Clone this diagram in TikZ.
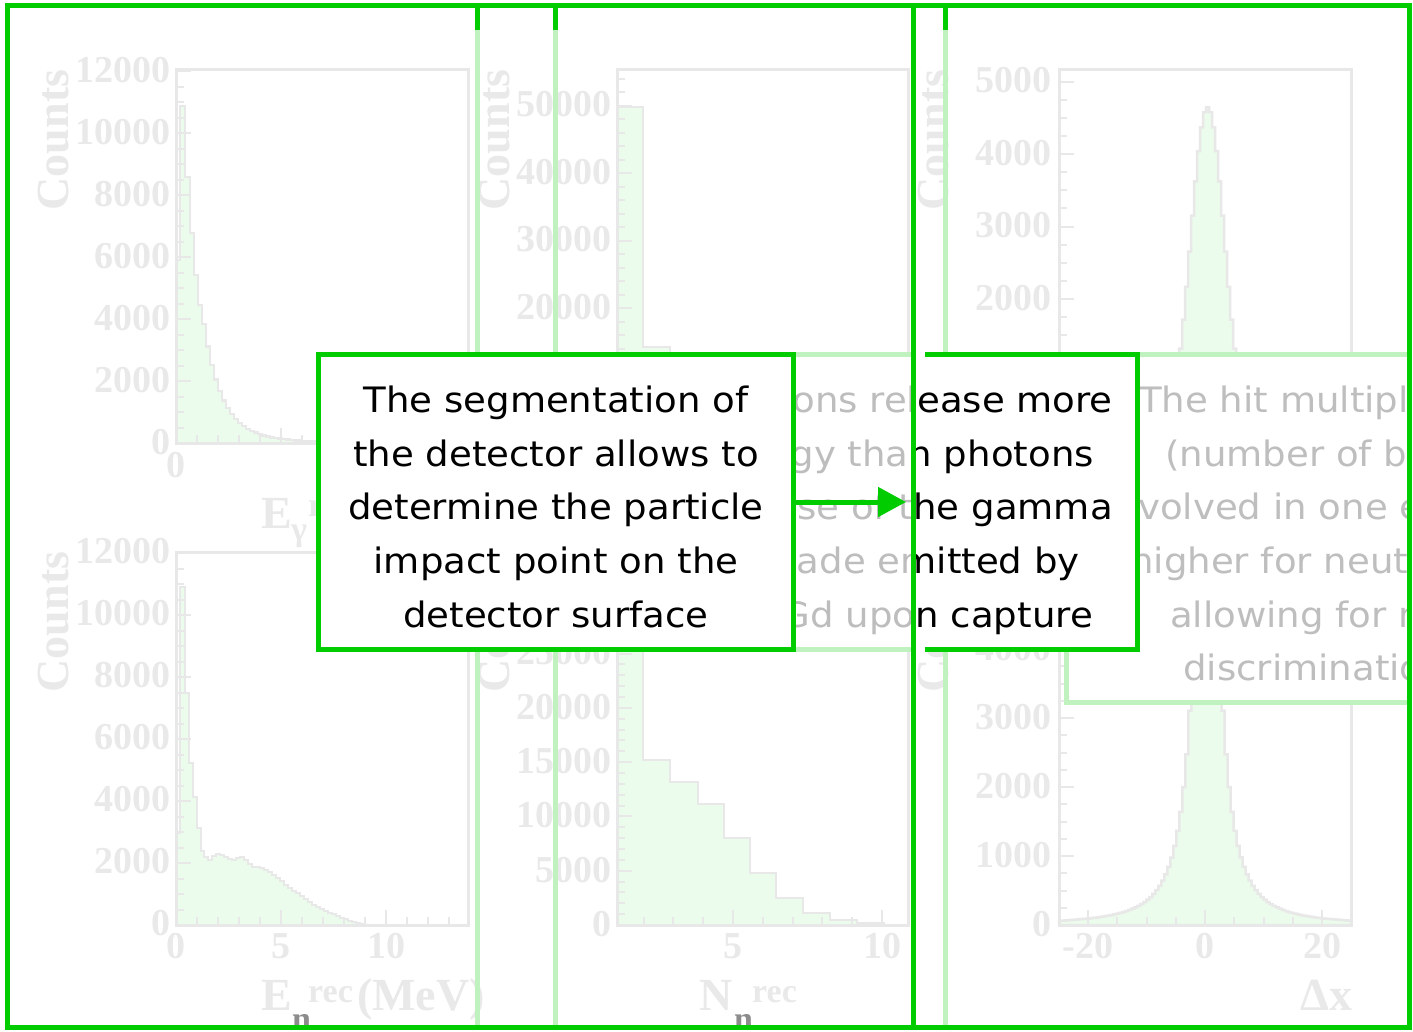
\documentclass[tikz,border=0pt]{standalone}
\usepackage{fontspec}
\setmainfont{Liberation Serif}
\newfontfamily\bxfont[FakeStretch=1.06]{DejaVu Sans}
\usetikzlibrary{arrows.meta}
\definecolor{brightgreen}{RGB}{0,204,0}
\definecolor{fadegreen}{RGB}{192,242,192}
\definecolor{plotline}{RGB}{232,232,232}
\definecolor{plottext}{RGB}{233,233,233}
\definecolor{histfill}{RGB}{236,252,236}
\definecolor{fadetext}{RGB}{190,190,190}
\definecolor{subgrey}{RGB}{140,140,140}
\newcommand\bxtxt{\bxfont\fontsize{35}{42}\selectfont}
\newcommand\ticktxt{\bfseries\fontsize{38}{40}\selectfont}
\newcommand\axtxt{\bfseries\fontsize{46}{48}\selectfont}
\newcommand\suptxt{\bfseries\fontsize{34}{36}\selectfont}
\begin{document}
\begin{tikzpicture}[x=1pt,y=-1pt,line join=miter,
  plotframe/.style={draw=plotline,line width=3pt},
  histo/.style={draw=plotline,fill=histfill,line width=2.5pt},
  tickmark/.style={draw=plotline,line width=2pt},
  ylab/.style={text=plottext,font=\ticktxt,anchor=east,inner sep=0pt},
  xlab/.style={text=plottext,font=\ticktxt,anchor=north,inner sep=0pt},
  countlab/.style={text=plottext,font=\axtxt,rotate=90,inner sep=0pt},
  axlab/.style={text=plottext,font=\axtxt,anchor=base west,inner sep=0pt},
  supl/.style={text=plottext,font=\suptxt,anchor=base west,inner sep=0pt},
  subdark/.style={text=subgrey,font=\suptxt,anchor=base west,inner sep=0pt},
  fadeln/.style={draw=fadegreen,line width=5pt},
  brightln/.style={draw=brightgreen,line width=5pt},
  txtline/.style={font=\bxtxt,inner sep=0pt},
]
\useasboundingbox (0,0) rectangle (1413,1031);
\fill[white] (0,0) rectangle (1413,1031);

% ---------------- plot 1 (top left) ----------------
\filldraw[histo] (176,443) -- (176,260) -- (180,260) -- (180,106) -- (185,106) -- (185,177) -- (190,177) -- (190,233) -- (194,233) -- (194,275) -- (198,275) -- (198,305) -- (202,305)
  -- plot[const plot,domain=202:466,samples=67] (\x,{443-0.031*(10000*exp(-(\x-183)/17)+870*exp(-(\x-183)/45))}) -- (466,443) -- cycle;
\draw[plotframe] (176,69) rectangle (468,443);
\foreach \k in {0,...,24} \draw[tickmark] (176,{443-\k*15.5}) -- ++(8,0);
\foreach \k in {0,...,6} \draw[tickmark] (176,{443-\k*62}) -- ++(15,0);
\foreach \k in {1,...,13} \draw[tickmark] ({176+\k*21},443) -- ++(0,-8);
\foreach \k in {1,2} \draw[tickmark] ({176+\k*105},443) -- ++(0,-15);
\foreach \v [count=\k from 0] in {0,2000,4000,6000,8000,10000,12000}
  \node[ylab] (p1y\k) at (171,{442-\k*62}) {\v};
\node[xlab] (p1x0) at (176,452) {0};
\node[countlab] (p1c) at (54,140) {Counts};
\node[axlab] (p1e) at (261,528) {E};
\node[supl] (p1g) at (291,540) {γ};
\node[supl] (p1r) at (308,516) {rec};

% ---------------- plot 2 (bottom left) ----------------
\filldraw[histo] (176,925) -- plot[const plot] coordinates {(176,833) (180,587) (185,693) (189,763) (193,797) (197,828) (201,851) (204,857) (208,860) (212,856) (216,854) (220,855) (224,857) (228,859) (232,860) (236,858) (240,857) (244,860) (248,864) (252,867) (256,867) (260,868) (264,870) (268,872) (272,875) (276,878) (280,881) (284,885) (288,888) (292,891) (296,893) (300,896) (304,899) (308,902) (312,905) (316,907) (320,909) (324,911) (328,913) (332,914) (336,916) (340,918) (344,919) (348,921) (352,922) (356,923) (360,924) (364,925) (468,925)} -- cycle;
\draw[plotframe] (176,552) rectangle (468,925);
\foreach \k in {0,...,24} \draw[tickmark] (176,{925-\k*15.5}) -- ++(8,0);
\foreach \k in {0,...,6} \draw[tickmark] (176,{925-\k*62}) -- ++(15,0);
\foreach \k in {1,...,13} \draw[tickmark] ({176+\k*21},925) -- ++(0,-8);
\foreach \k in {1,2} \draw[tickmark] ({176+\k*105},925) -- ++(0,-15);
\foreach \v [count=\k from 0] in {0,2000,4000,6000,8000,10000,12000}
  \node[ylab] (p2y\k) at (171,{923-\k*62}) {\v};
\foreach \v [count=\k from 0] in {0,5,10}
  \node[xlab] (p2x\k) at ({176+\k*105},933) {\v};
\node[countlab] (p2c) at (54,622) {Counts};
\node[axlab] (p2e) at (261,1010) {E};
\node[subdark] (p2n) at (292,1030) {n};
\node[supl] (p2r) at (308,1002) {rec};
\node[axlab] (p2u) at (357,1010) {(MeV)};

% ---------------- plot 3 (top middle) ----------------
\filldraw[histo] (617,443) -- plot[const plot] coordinates {(617,107) (643,347) (670,361) (697,375) (724,395) (750,415) (776,428) (803,436) (830,440) (857,442) (884,443)} -- cycle;
\draw[plotframe] (617,69) rectangle (908,443);
\foreach \k in {0,...,27} \draw[tickmark] (617,{443-\k*13.5}) -- ++(8,0);
\foreach \k in {0,...,5} \draw[tickmark] (617,{443-\k*67.5}) -- ++(15,0);
\foreach \v [count=\k from 2] in {20000,30000,40000,50000}
  \node[ylab] (p3y\k) at (612,{442-\k*67.5}) {\v};
\node[countlab] (p3c) at (495,140) {Counts};

% ---------------- plot 4 (bottom middle) ----------------
\filldraw[histo] (617,925) -- plot[const plot] coordinates {(617,615) (643,760) (670,782) (698,804) (724,838) (750,873) (776,898) (803,913) (830,920) (857,923) (884,925)} -- cycle;
\draw[plotframe] (617,552) rectangle (908,925);
\foreach \k in {0,...,34} \draw[tickmark] (617,{925-\k*10.86}) -- ++(8,0);
\foreach \k in {0,...,6} \draw[tickmark] (617,{925-\k*54.3}) -- ++(15,0);
\foreach \k in {-3,...,5} \draw[tickmark] ({733+\k*29.8},925) -- ++(0,-8);
\foreach \k in {0,5} \draw[tickmark] ({733+\k*29.8},925) -- ++(0,-15);
\foreach \v [count=\k from 0] in {0,5000,10000,15000,20000,25000}
  \node[ylab] (p4y\k) at (612,{924-\k*54.3}) {\v};
\node[xlab] (p4x5) at (733,933) {5};
\node[xlab] (p4x10) at (882,933) {10};
\node[countlab] (p4c) at (495,622) {Counts};
\node[axlab] (p4e) at (699,1010) {N};
\node[subdark] (p4n) at (734,1030) {n};
\node[supl] (p4r) at (752,1002) {rec};

% ---------------- plot 5 (top right) ----------------
\filldraw[histo] (1059,444) -- (1140,444) -- plot[const plot,domain=1140:1272,samples=45] (\x,{444-337*exp(-0.5*((\x-1206)/17)^2)}) -- (1351,444) -- cycle;
\draw[plotframe] (1059,69) rectangle (1351,444);
\foreach \k in {0,...,20} \draw[tickmark] (1059,{444-\k*18.125}) -- ++(8,0);
\foreach \k in {0,...,5} \draw[tickmark] (1059,{444-\k*72.5}) -- ++(15,0);
\foreach \v [count=\k from 2] in {2000,3000,4000,5000}
  \node[ylab] (p5y\k) at (1052,{443-\k*72.5}) {\v};
\node[countlab] (p5c) at (934,140) {Counts};

% ---------------- plot 6 (bottom right) ----------------
\filldraw[histo] (1059,925) -- plot[const plot,domain=1059:1351,samples=98] (\x,{925-min(560,603.2/(1+((\x-1205)/12.29)^2))}) -- (1351,925) -- cycle;
\draw[plotframe] (1059,552) rectangle (1351,925);
\foreach \k in {0,...,21} \draw[tickmark] (1059,{925-\k*17.25}) -- ++(8,0);
\foreach \k in {0,...,5} \draw[tickmark] (1059,{925-\k*69}) -- ++(15,0);
\foreach \k in {-4,...,4} \draw[tickmark] ({1205+\k*29.25},925) -- ++(0,-8);
\foreach \k in {-4,0,4} \draw[tickmark] ({1205+\k*29.25},925) -- ++(0,-15);
\foreach \v [count=\k from 0] in {0,1000,2000,3000,4000}
  \node[ylab] (p6y\k) at (1052,{924-\k*69}) {\v};
\node[xlab] (p6xa) at (1088,933) {-20};
\node[xlab] (p6xb) at (1205,933) {0};
\node[xlab] (p6xc) at (1322,933) {20};
\node[countlab] (p6c) at (934,622) {Counts};
\node[axlab] (p6d) at (1300,1010) {Δx};

% ---------------- faded panel lines ----------------
\draw[fadeln] (477,30) -- (477,1027);
\draw[fadeln] (555,30) -- (555,1027);
\draw[fadeln] (945,30) -- (945,1027);

% ---------------- box 3 (faded) ----------------
\begin{scope}
\clip (1000,340) rectangle (1409.5,720);
\node[draw=fadegreen,line width=5pt,fill=white,minimum width=434pt,minimum height=348pt,inner sep=0pt] (box3) at (1283,528) {};
\node[txtline,text=fadetext,anchor=base west] (b3a) at (1139,412) {The hit multiplicity};
\node[txtline,text=fadetext,anchor=base west] (b3b) at (1165,466) {(number of bars};
\node[txtline,text=fadetext,anchor=base west] (b3c) at (1138,519) {\llap{in}volved in one event};
\node[txtline,text=fadetext,anchor=base west] (b3d) at (1130,573) {higher for neutrons};
\node[txtline,text=fadetext,anchor=base west] (b3e) at (1170,627) {allowing for n/γ};
\node[txtline,text=fadetext,anchor=base west] (b3f) at (1183,680) {discrimination};
\end{scope}

% ---------------- box 2 ----------------
\node[fill=white,minimum width=497pt,minimum height=296pt,inner sep=0pt] (box2) at (888.5,502) {};
\draw[fadeln] (640,354.5) -- (913,354.5);
\draw[fadeln] (640,649.5) -- (913,649.5);
\draw[brightln] (925,354.5) -- (1137,354.5) -- (1137,649.5) -- (925,649.5);
\node[txtline,anchor=base east] (b2a) at (1113,412) {Neutrons release more};
\node[txtline,anchor=base east] (b2b) at (1094,466) {energy than photons};
\node[txtline,anchor=base east] (b2c) at (1113,519) {because of the gamma};
\node[txtline,anchor=base east] (b2d) at (1080,573) {cascade emitted by};
\node[txtline,anchor=base east] (b2e) at (1093,627) {Gd upon capture};
\fill[white,opacity=0.74] (640,357) rectangle (913,647);

% ---------------- box 1 ----------------
\node[draw=brightgreen,line width=5pt,fill=white,minimum width=475pt,minimum height=295pt,inner sep=0pt] (box1) at (555.5,502) {};
\node[txtline,anchor=base] (b1a) at (556,412) {The segmentation of};
\node[txtline,anchor=base] (b1b) at (556,466) {the detector allows to};
\node[txtline,anchor=base] (b1c) at (556,519) {determine the particle};
\node[txtline,anchor=base] (b1d) at (556,573) {impact point on the};
\node[txtline,anchor=base] (b1e) at (556,627) {detector surface};

% ---------------- arrow ----------------
\coordinate (tip) at (906,502);
\draw[brightgreen,line width=5pt,-{Triangle[length=28pt,width=29pt]}] (box1.east) -- (tip);

% ---------------- bright frame lines ----------------
\draw[brightln] (7,5) rectangle (1409,1027);
\draw[brightln] (913,5) -- (913,1027);
\draw[brightln] (477,5) -- (477,30);
\draw[brightln] (555,5) -- (555,30);
\draw[brightln] (945,5) -- (945,30);
\end{tikzpicture}
\end{document}
